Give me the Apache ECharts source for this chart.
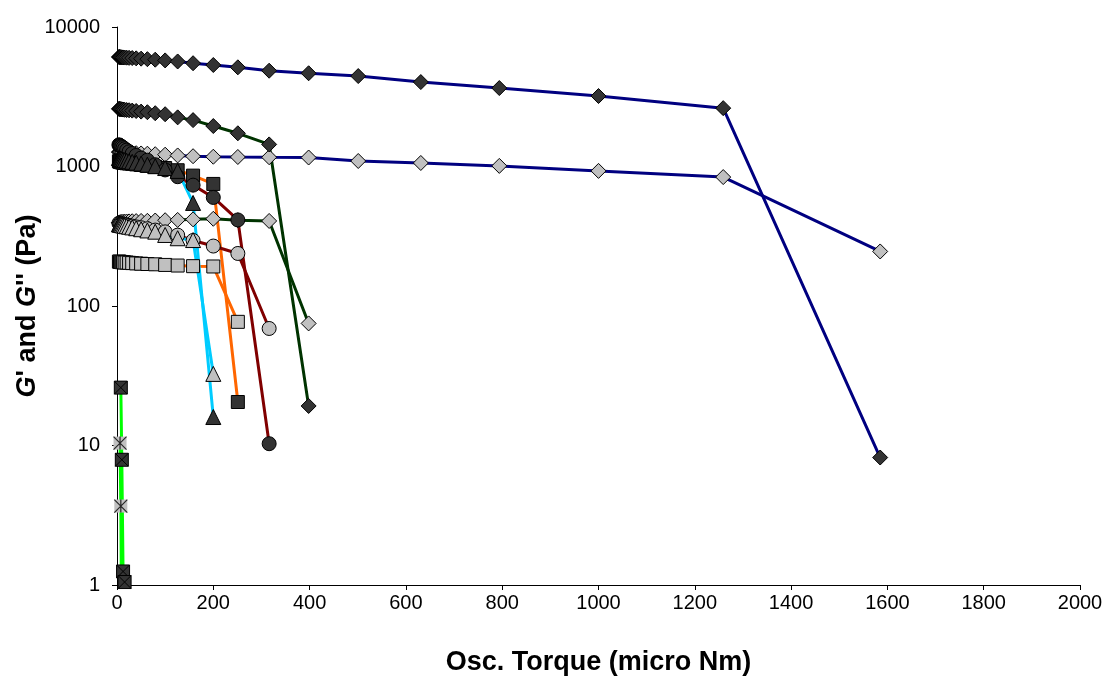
<!DOCTYPE html>
<html>
<head>
<meta charset="utf-8">
<script src="https://cdn.jsdelivr.net/npm/echarts@6/dist/echarts.min.js"></script>
<style>html,body{margin:0;padding:0;background:#fff}#c{width:1106px;height:677px}</style>
</head>
<body>
<div id="c"></div>
<script>
// Oscillatory torque values (micro Nm)
const torque = [3.98, 5.01, 6.31, 7.94, 10, 12.6, 15.8, 20, 25.1, 31.6, 39.8, 50.1, 63.1, 79.4, 100, 126, 158, 200, 251, 316, 398, 501, 631, 794, 1000, 1259, 1585];

// Series values (Pa)
const navyGp  = [6100, 6090, 6080, 6070, 6060, 6050, 6040, 6030, 6010, 5990, 5960, 5930, 5880, 5830, 5760, 5660, 5500, 5340, 5140, 4860, 4660, 4450, 4030, 3650, 3200, 2620, 8.2];
const navyGpp = [1270, 1268, 1266, 1264, 1262, 1260, 1258, 1255, 1252, 1250, 1245, 1240, 1235, 1225, 1215, 1200, 1185, 1175, 1170, 1165, 1160, 1095, 1060, 1010, 930, 840, 246];
const greenGp  = [2590, 2585, 2580, 2575, 2570, 2560, 2550, 2540, 2530, 2515, 2500, 2475, 2450, 2410, 2370, 2250, 2150, 1950, 1730, 1440, 19.2];
const greenGpp = [395, 397, 398, 399, 400, 401, 402, 403, 404, 405, 406, 407, 408, 410, 412, 414, 418, 422, 412, 407, 75];
const redGp  = [1430, 1420, 1410, 1400, 1385, 1365, 1340, 1310, 1275, 1240, 1200, 1150, 1110, 1030, 945, 845, 735, 600, 414, 10.3];
const redGpp = [392, 391, 390, 389, 388, 386, 384, 381, 378, 374, 369, 364, 358, 350, 340, 322, 295, 269, 238, 69];
const orangeGp  = [1090, 1085, 1080, 1075, 1070, 1065, 1060, 1055, 1050, 1045, 1035, 1025, 1010, 995, 975, 940, 860, 750, 20.5];
const orangeGpp = [208, 208, 207, 207, 206, 206, 205, 205, 204, 203, 202, 201, 200, 199, 197, 195, 193, 192, 77];
const cyanGp  = [1150, 1145, 1140, 1135, 1130, 1120, 1110, 1100, 1090, 1080, 1065, 1050, 1030, 1005, 975, 930, 548, 16];
const cyanGpp = [385, 384, 383, 382, 380, 378, 376, 373, 370, 366, 361, 355, 348, 341, 323, 306, 297, 32.6];
const limeTorqueGp = [7.94, 10, 12.6, 15.8, 20];
const limeGp = [26, 7.9, 1.25, 1.05, 0.3];
const limeTorqueGpp = [6.31, 7.94, 10];
const limeGpp = [10.4, 3.68, 0.3];

const xTicks = [0, 200, 400, 600, 800, 1000, 1200, 1400, 1600, 1800, 2000];

const DARK = '#333333', LIGHT = '#c0c0c0';
function pairs(xs, ys) { return ys.map((v, i) => [xs[i], v]); }
function mk(name, color, vals, symbol, fill, size, xs) {
  return {
    name, type: 'line', data: pairs(xs || torque, vals),
    symbol, symbolSize: size,
    lineStyle: { color, width: 3 },
    itemStyle: { color: fill, borderColor: '#000', borderWidth: 1 },
    emphasis: { disabled: true },
    clip: true
  };
}
const xsq = 'path://M0,0L10,0L10,10L0,10ZM0,0L10,10M10,0L0,10';
const ast = 'path://M0,0L10,10M10,0L0,10M5,0L5,10';

const series = [
  mk("navy G'", '#000080', navyGp, 'diamond', DARK, 15),
  mk("navy G''", '#000080', navyGpp, 'diamond', LIGHT, 15),
  mk("green G'", '#003300', greenGp, 'diamond', DARK, 15),
  mk("green G''", '#003300', greenGpp, 'diamond', LIGHT, 15),
  mk("orange G'", '#ff6600', orangeGp, 'rect', DARK, 13),
  mk("orange G''", '#ff6600', orangeGpp, 'rect', LIGHT, 13),
  mk("red G'", '#800000', redGp, 'circle', DARK, 14),
  mk("red G''", '#800000', redGpp, 'circle', LIGHT, 14),
  mk("cyan G'", '#00ccff', cyanGp, 'triangle', DARK, 15),
  mk("cyan G''", '#00ccff', cyanGpp, 'triangle', LIGHT, 15),
  mk("lime G''", '#00ff00', limeGpp, 'rect', LIGHT, 13, limeTorqueGpp),
  mk("lime G'", '#00ff00', limeGp, xsq, DARK, 13, limeTorqueGp)
];
series[10].itemStyle.borderWidth = 0;
series.push({
  name: 'lime G\'\' marks', type: 'scatter', data: pairs(limeTorqueGpp, limeGpp).filter(p => p[1] >= 1),
  symbol: ast, symbolSize: 13, z: 3,
  itemStyle: { color: 'transparent', borderColor: '#000', borderWidth: 1.2 },
  emphasis: { disabled: true }
});

const chart = echarts.init(document.getElementById('c'), null, { renderer: 'canvas' });
chart.setOption({
  animation: false,
  backgroundColor: '#fff',
  textStyle: { fontFamily: 'Liberation Sans, Arial, sans-serif' },
  grid: { left: 117, right: 26, top: 27, bottom: 92, containLabel: false, outerBoundsMode: 'none' },
  xAxis: {
    type: 'value', min: xTicks[0], max: xTicks[xTicks.length - 1], interval: 200,
    name: 'Osc. Torque (micro Nm)', nameLocation: 'middle', nameGap: 64, nameMoveOverlap: false,
    nameTextStyle: { fontSize: 27, fontWeight: 'bold', color: '#000', fontFamily: 'Liberation Sans' },
    axisLine: { lineStyle: { color: '#000', width: 1 } },
    axisTick: { show: true, inside: false, length: 5, lineStyle: { color: '#000' } },
    axisLabel: { fontSize: 20, color: '#000', margin: 8, fontFamily: 'Liberation Sans', formatter: v => String(v) },
    splitLine: { show: false }
  },
  yAxis: {
    type: 'log', logBase: 10, min: 1, max: 10000,
    name: "{i|G}' and {i|G}'' (Pa)", nameLocation: 'middle', nameGap: 76, nameRotate: 90, nameMoveOverlap: false,
    nameTextStyle: {
      fontSize: 27, fontWeight: 'bold', color: '#000', fontFamily: 'Liberation Sans',
      rich: { i: { fontSize: 27, fontWeight: 'bold', fontStyle: 'italic', color: '#000', fontFamily: 'Liberation Sans' } }
    },
    axisLine: { show: true, lineStyle: { color: '#000', width: 1 } },
    axisTick: { show: true, inside: false, length: 5, lineStyle: { color: '#000' } },
    minorTick: { show: false },
    axisLabel: { fontSize: 20, color: '#000', margin: 17, fontFamily: 'Liberation Sans', formatter: v => String(Math.round(v)) },
    splitLine: { show: false }
  },
  series
});
</script>
</body>
</html>
